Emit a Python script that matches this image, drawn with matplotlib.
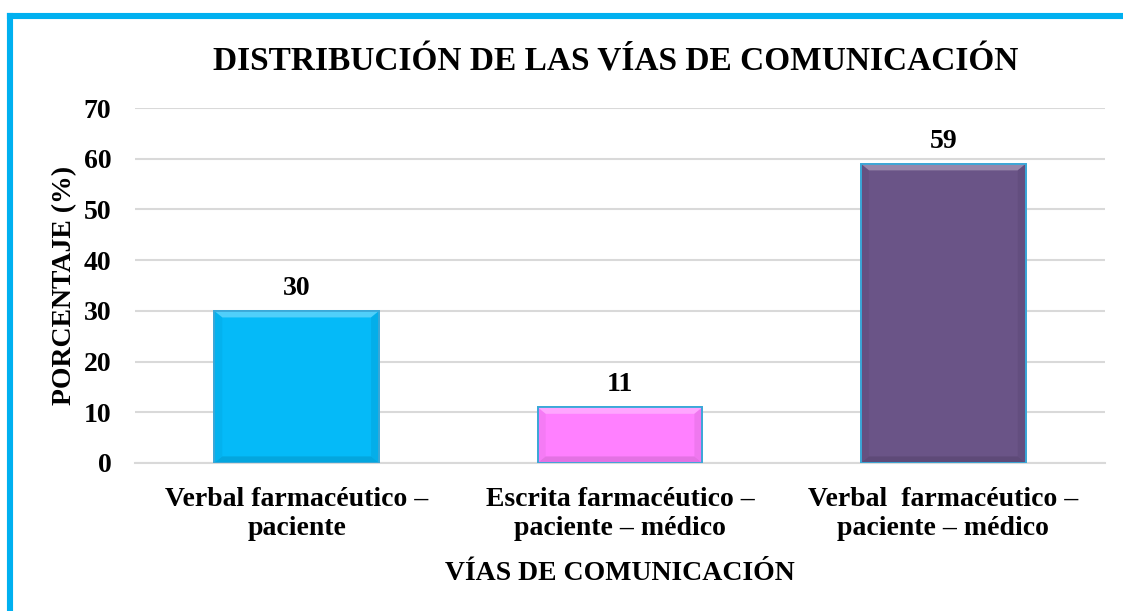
import matplotlib
matplotlib.use("Agg")
import matplotlib.pyplot as plt
from matplotlib.lines import Line2D
from matplotlib.patches import Polygon
import matplotlib.colors as mcolors

categories = ["Verbal farmacéutico –\npaciente",
              "Escrita farmacéutico –\npaciente – médico",
              "Verbal  farmacéutico –\npaciente – médico"]
values = [30, 11, 59]
labels = ["30", "11", "59"]
colors = ["#05BAF8", "#FF80FF", "#6A5487"]
yticks = [0, 10, 20, 30, 40, 50, 60, 70]

W, H = 1123, 611
fig = plt.figure(figsize=(W / 100, H / 100), dpi=100)
plt.rcParams['font.family'] = ['Liberation Serif', 'DejaVu Serif']

# border
fig.add_artist(Line2D([10 / W, 10 / W], [1 - 16 / H, 0], transform=fig.transFigure,
                      color="#00B0F0", lw=4.4, solid_capstyle="projecting"))
fig.add_artist(Line2D([10 / W, 1], [1 - 16 / H, 1 - 16 / H], transform=fig.transFigure,
                      color="#00B0F0", lw=4.4, solid_capstyle="projecting"))

ax = fig.add_axes([135 / W, 1 - 463 / H, (1105 - 135) / W, (463 - 108) / H])
x = list(range(len(categories)))
bars = ax.bar(x, values, width=0.51, color=colors, edgecolor="#3AA8D8", linewidth=1.3, zorder=3)

# bevel effect derived from bar geometry
bev_x = 0.025
bev_y = 1.3
for b, c in zip(bars, colors):
    x0, w, h = b.get_x(), b.get_width(), b.get_height()
    x1 = x0 + w
    rgb = mcolors.to_rgb(c)
    light = tuple(v + (1 - v) * 0.3 for v in rgb)
    dark = tuple(v * 0.85 for v in rgb)
    ax.add_patch(Polygon([(x0, h), (x1, h), (x1 - bev_x, h - bev_y), (x0 + bev_x, h - bev_y)],
                         closed=True, facecolor=light, edgecolor="none", zorder=4))
    ax.add_patch(Polygon([(x0, 0), (x1, 0), (x1 - bev_x, bev_y), (x0 + bev_x, bev_y)],
                         closed=True, facecolor=dark, edgecolor="none", zorder=4, alpha=0.7))
    ax.add_patch(Polygon([(x1, 0), (x1, h), (x1 - bev_x, h - bev_y), (x1 - bev_x, bev_y)],
                         closed=True, facecolor=dark, edgecolor="none", zorder=4, alpha=0.4))
    ax.add_patch(Polygon([(x0, 0), (x0, h), (x0 + bev_x, h - bev_y), (x0 + bev_x, bev_y)],
                         closed=True, facecolor=dark, edgecolor="none", zorder=4, alpha=0.25))
    ax.add_patch(Polygon([(x0, 0), (x1, 0), (x1, h), (x0, h)], closed=True, facecolor="none",
                         edgecolor="#3AA8D8", linewidth=1.3, zorder=5))

for i, b in enumerate(bars):
    ax.text(b.get_x() + b.get_width() / 2, values[i] + 2.0, labels[i], ha="center", va="bottom",
            fontsize=20, fontweight="bold")

ax.set_xlim(-0.5, 2.5)
ax.set_ylim(0, 70)
ax.set_yticks(yticks)
ax.set_yticklabels([str(t) for t in yticks], fontsize=20, fontweight="bold")
ax.set_xticks(x)
ax.set_xticklabels(categories, fontsize=20, fontweight="bold", linespacing=1.25)
ax.tick_params(axis="both", length=0)
ax.tick_params(axis="y", pad=17)
ax.tick_params(axis="x", pad=17)
ax.grid(axis="y", color="#D9D9D9", lw=1.5, zorder=0)
for s in ["top", "right", "left"]:
    ax.spines[s].set_visible(False)
ax.spines["bottom"].set_color("#D9D9D9")
ax.spines["bottom"].set_linewidth(1.5)

ax.set_ylabel("PORCENTAJE (%)", fontsize=20, fontweight="bold", labelpad=5)
ax.set_xlabel("VÍAS DE COMUNICACIÓN", fontsize=20, fontweight="bold", labelpad=14)
fig.text(616 / W, 1 - 62 / H, "DISTRIBUCIÓN DE LAS VÍAS DE COMUNICACIÓN", ha="center", va="center",
         fontsize=24, fontweight="bold")

fig.savefig("out.png", dpi=100)
